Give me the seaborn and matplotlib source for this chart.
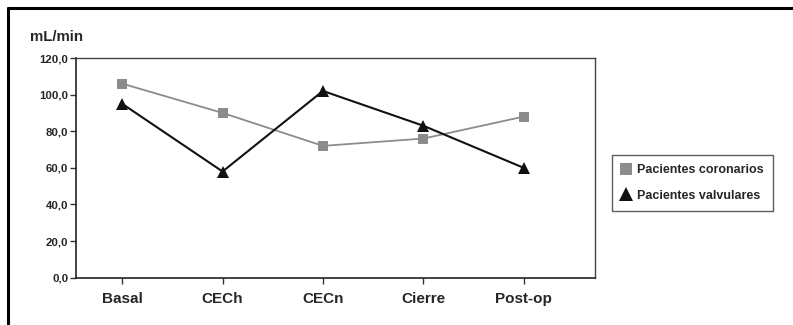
import pandas as pd
import matplotlib.pyplot as plt
import seaborn as sns
from matplotlib.lines import Line2D

# Data
etapas = ["Basal", "CECh", "CECn", "Cierre", "Post-op"]
coronarios = [106, 90, 72, 76, 88]
valvulares = [95, 58, 102, 83, 60]
yticks = [0, 20, 40, 60, 80, 100, 120]

df = pd.DataFrame({
    "Etapa": etapas * 2,
    "Flujo": coronarios + valvulares,
    "Grupo": ["Pacientes coronarios"] * 5 + ["Pacientes valvulares"] * 5,
})

sns.set_style("white")
plt.rcParams["font.family"] = ["Liberation Sans", "DejaVu Sans"]
plt.rcParams["font.weight"] = "bold"

fig = plt.figure(figsize=(7.93, 3.25), dpi=100)
ax = fig.add_axes([76 / 793, 1 - 277.7 / 325, (595 - 76) / 793, (277.7 - 58) / 325])

colores = {"Pacientes coronarios": "#8c8c8c", "Pacientes valvulares": "#111111"}
marcas = {"Pacientes coronarios": "s", "Pacientes valvulares": "^"}
tamanos = {"Pacientes coronarios": 7.5, "Pacientes valvulares": 9}
for grupo, sub in df.groupby("Grupo", sort=False):
    sns.lineplot(data=sub, x="Etapa", y="Flujo", ax=ax, color=colores[grupo],
                 marker=marcas[grupo], markersize=tamanos[grupo], markeredgewidth=0,
                 linewidth=1.5 if grupo == "Pacientes valvulares" else 1.3,
                 legend=False)

ax.set_xlim(-0.46, 4.71)
ax.set_ylim(0, 120)
ax.set_yticks(yticks)
ax.set_yticklabels([f"{v},0" for v in yticks], fontsize=8.2, fontweight="bold")
ax.set_xticks(range(len(etapas)))
ax.set_xticklabels(etapas, fontsize=11, fontweight="bold")
ax.set_xlabel("")
ax.set_ylabel("")
ax.tick_params(axis="both", direction="out", length=4, width=1, color="#333333",
               left=True, bottom=True)
ax.tick_params(axis="x", pad=6)
ax.tick_params(axis="y", pad=1.5)
for s in ["left", "bottom"]:
    ax.spines[s].set_color("#222222")
    ax.spines[s].set_linewidth(1.2)
for s in ["top", "right"]:
    ax.spines[s].set_color("#444444")
    ax.spines[s].set_linewidth(1.0)

fig.text(30 / 793, 1 - 37 / 325, "mL/min", fontsize=10.8, fontweight="bold",
         va="center", ha="left")

handles = [
    Line2D([], [], linestyle="none", marker="s", color="#8c8c8c", markersize=8,
           markeredgewidth=0, label="Pacientes coronarios"),
    Line2D([], [], linestyle="none", marker="^", color="#111111", markersize=10,
           markeredgewidth=0, label="Pacientes valvulares"),
]
leg = fig.legend(handles=handles, loc="upper left",
                 bbox_to_anchor=(612 / 793, 1 - 155 / 325),
                 frameon=True, fancybox=False, prop={"size": 9, "weight": "bold"},
                 handlelength=0.8, handletextpad=0.45, labelspacing=1.05,
                 borderpad=0.75, borderaxespad=0)
leg.get_frame().set_edgecolor("#333333")
leg.get_frame().set_linewidth(1.0)

# outer frame (top and left edges)
fig.add_artist(Line2D([8 / 793, 1], [1 - 8 / 325, 1 - 8 / 325],
                      transform=fig.transFigure, color="black", linewidth=2.2))
fig.add_artist(Line2D([8 / 793, 8 / 793], [0, 1 - 8 / 325],
                      transform=fig.transFigure, color="black", linewidth=2.2))

fig.savefig("out.png", dpi=100, facecolor="white")
